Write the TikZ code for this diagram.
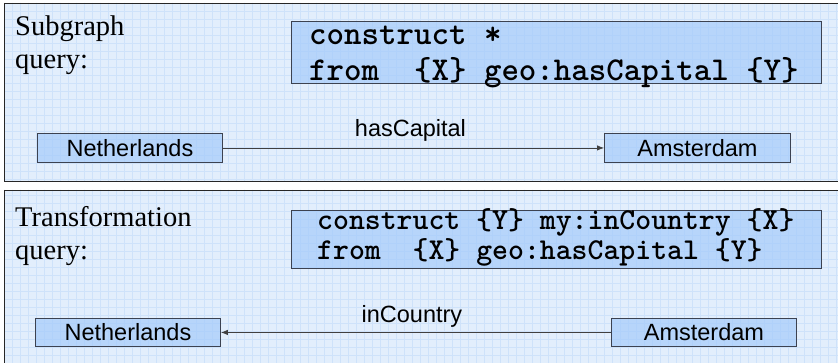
\documentclass[tikz,border=0pt]{standalone}
\usepackage{fontspec}
\setmainfont{Liberation Serif}
\setsansfont{Liberation Sans}
\usetikzlibrary{arrows.meta,calc}

\definecolor{panelblue}{RGB}{226,238,252}
\definecolor{gridblue}{RGB}{206,226,250}
\definecolor{boxblue}{RGB}{160,200,250}
\definecolor{edgegray}{RGB}{60,66,80}

\tikzset{
  panelfill/.style={fill=panelblue},
  panelframe/.style={draw=black!85, line width=0.9pt},
  gridlines/.style={draw=gridblue, line width=0.6pt},
  codebox/.style={draw=edgegray, line width=0.9pt, fill=boxblue, fill opacity=0.65,
    anchor=north west, inner sep=0pt},
  codetext/.style={font=\ttfamily\bfseries, align=left, inner sep=0pt, anchor=base west},
  entity/.style={draw=edgegray, line width=0.9pt, fill=boxblue, fill opacity=0.65,
    text opacity=1, font=\sffamily\fontsize{23.5}{26}\selectfont, anchor=north west,
    inner sep=0pt},
  heading/.style={font=\fontsize{28.5}{33}\selectfont, align=left, inner sep=0pt,
    anchor=base west},
  rel/.style={draw=black!75, line width=0.8pt, -{Latex[length=7pt,width=5.5pt]}},
  rellabel/.style={font=\sffamily\fontsize{23.5}{26}\selectfont, inner sep=0pt, anchor=base},
}

\begin{document}
\begin{tikzpicture}[x=1pt,y=-1pt]
  \useasboundingbox (0,0) rectangle (838,363);
  \clip (0,0) rectangle (838,363);

  % two panels with a fine grid texture
  \path[panelfill] (4,3) rectangle (850,181);
  \path[panelfill] (4,190) rectangle (850,380);
  \begin{scope}
    \clip (4,3) rectangle (850,181) (4,190) rectangle (850,380);
    \foreach \i in {0,...,105} {
      \draw[gridlines] (4+8*\i,0) -- (4+8*\i,363);
    }
    \foreach \j in {0,...,46} {
      \draw[gridlines] (0,3+8*\j) -- (838,3+8*\j);
    }
  \end{scope}
  \draw[panelframe] (4,3) rectangle (850,181);
  \draw[panelframe] (4,190) rectangle (850,380);

  % subgraph query panel
  \node[heading] (h1) at (15,69) {Subgraph\\query:};
  \node[codebox, minimum width=530pt, minimum height=62pt] (q1) at (291,21) {};
  \node[codetext, font=\ttfamily\bfseries\fontsize{33.3}{36}\selectfont] (c1)
    at ($(q1.north west)+(18,60)$) {construct *\\from~~\{X\} geo:hasCapital \{Y\}};

  \node[entity, minimum width=185pt, minimum height=29pt] (n1) at (37,133) {Netherlands};
  \node[entity, minimum width=186pt, minimum height=29pt] (a1) at (604,133) {Amsterdam};
  \draw[rel] (n1.east) -- (a1.west);
  \node[rellabel] (l1) at ($($(n1.east)!0.5!(a1.west)$)+(-3,-11)$) {hasCapital};

  % transformation query panel
  \node[heading] (h2) at (15,260) {Transformation\\query:};
  \node[codebox, minimum width=530pt, minimum height=58pt] (q2) at (291,210) {};
  \node[codetext, font=\ttfamily\bfseries\fontsize{30.3}{30}\selectfont] (c2)
    at ($(q2.north west)+(26,50)$) {construct \{Y\} my:inCountry \{X\}\\from~~\{X\} geo:hasCapital \{Y\}};

  \node[entity, minimum width=185pt, minimum height=28pt] (n2) at (35,318) {Netherlands};
  \node[entity, minimum width=185pt, minimum height=28pt] (a2) at (611,318) {Amsterdam};
  \draw[rel] (a2.west) -- (n2.east);
  \node[rellabel] (l2) at ($($(n2.east)!0.5!(a2.west)$)+(-4,-10)$) {inCountry};
\end{tikzpicture}
\end{document}
